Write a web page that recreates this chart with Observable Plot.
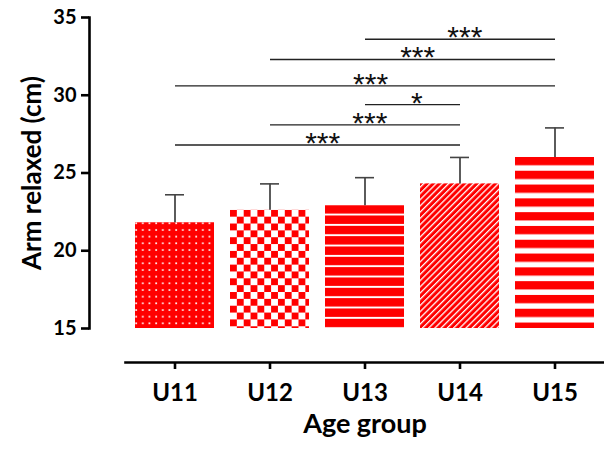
<!DOCTYPE html>
<html>
<head>
<meta charset="utf-8">
<script src="https://cdn.jsdelivr.net/npm/d3@7"></script>
<script src="https://cdn.jsdelivr.net/npm/@observablehq/plot@0.6"></script>
<style>
  body { margin: 0; background: #fff; }
</style>
</head>
<body>
<div id="chart"></div>
<script>
// Arm relaxed girth by age group: mean + SD
const groups = ["U11", "U12", "U13", "U14", "U15"];
const means = [21.8, 22.6, 22.9, 24.3, 26.0];
const sds = [1.8, 1.7, 1.8, 1.7, 1.9];
const yTicks = [15, 20, 25, 30, 35];
const yBase = 15;

// Pairwise comparisons (significance brackets)
const compLeft = ["U11", "U12", "U13", "U11", "U12", "U13"];
const compRight = ["U14", "U14", "U14", "U15", "U15", "U15"];
const compLevel = [26.8, 28.1, 29.4, 30.6, 32.3, 33.6];
const compLabel = ["***", "***", "*", "***", "***", "***"];

const data = groups.map((g, i) => ({group: g, mean: means[i], sd: sds[i]}));
const comps = compLeft.map((l, i) => ({left: l, right: compRight[i], level: compLevel[i], label: compLabel[i]}));

const W = 604, H = 450;
const mLeft = 125, mRight = 0, mTop = 17, mBottom = 122;
const red = "#ff0000";

const xOpts = {type: "band", domain: groups, paddingInner: 0.17, paddingOuter: 0.085, align: 0.5};
const xs = Plot.scale({x: {...xOpts, range: [mLeft, W - mRight]}});

const plot = Plot.plot({
  width: W,
  height: H,
  marginLeft: mLeft,
  marginRight: mRight,
  marginTop: mTop,
  marginBottom: mBottom,
  style: {background: "white", fontFamily: "Lato", color: "black"},
  x: xOpts,
  y: {domain: [yBase, 35]},
  color: {type: "ordinal", domain: groups, range: groups.map(g => `url(#fill-${g})`)},
  marks: [
    Plot.barY(data, {x: "group", y1: yBase, y2: "mean", fill: "group"}),
    Plot.ruleX(data, {x: "group", y1: "mean", y2: d => d.mean + d.sd, stroke: "#333", strokeWidth: 1.6}),
    Plot.tickY(data, {x: "group", y: d => d.mean + d.sd, stroke: "#444", strokeWidth: 1.6, insetLeft: 30, insetRight: 30}),
    Plot.link(comps, {x1: "left", x2: "right", y1: "level", y2: "level", stroke: "#222", strokeWidth: 1.3}),
    ...comps.map(c => Plot.text([c], {
      x: "left", y: "level", text: "label",
      dx: (xs.apply(c.right) - xs.apply(c.left)) / 2 + 4, dy: 8,
      lineAnchor: "bottom", fontSize: 30, fontFamily: "Liberation Sans", fill: "#111"
    })),
    Plot.frame({anchor: "left", dx: -36, strokeWidth: 2.6}),
    Plot.axisY({ticks: yTicks, dx: -36, tickSize: 8, tickPadding: 5, strokeWidth: 2.6,
      fontSize: 20, fontWeight: "bold", fontFamily: "Lato", label: null}),
    Plot.frame({anchor: "bottom", dy: 34, strokeWidth: 2.6}),
    Plot.axisX({dy: 34, tickSize: 7, tickPadding: 14, strokeWidth: 2.6,
      fontSize: 24, fontWeight: "bold", fontFamily: "Lato", label: null}),
    Plot.text(["Arm relaxed (cm)"], {frameAnchor: "left", textAnchor: "middle", rotate: -90, dx: -93,
      fontSize: 26, fontWeight: "bold", fontFamily: "Lato"}),
    Plot.text(["Age group"], {frameAnchor: "bottom", dy: 104,
      fontSize: 27, fontWeight: "bold", fontFamily: "Lato"})
  ]
});

// Fill patterns for each bar, anchored at the bar's top-left corner
const xScale = plot.scale("x"), yScale = plot.scale("y");
const defs = d3.select(plot).insert("defs", ":first-child");
function pattern(group, w, h, draw, transform) {
  const d = data.find(r => r.group === group);
  const p = defs.append("pattern")
    .attr("id", `fill-${group}`)
    .attr("patternUnits", "userSpaceOnUse")
    .attr("x", xScale.apply(group))
    .attr("y", yScale.apply(d.mean))
    .attr("width", w).attr("height", h);
  if (transform) p.attr("patternTransform", transform);
  draw(p, w, h);
}
// U11: red with small white dots
pattern("U11", 6.67, 6.67, (p, w, h) => {
  p.append("rect").attr("width", w).attr("height", h).attr("fill", red);
  p.append("rect").attr("x", 0.3).attr("y", 0.2).attr("width", 1.7).attr("height", 1.7).attr("fill", "white");
});
// U12: checkerboard
pattern("U12", 13.7, 13.7, (p, w, h) => {
  p.append("rect").attr("width", w).attr("height", h).attr("fill", "white");
  p.append("rect").attr("width", w / 2).attr("height", h / 2).attr("fill", red);
  p.append("rect").attr("x", w / 2).attr("y", h / 2).attr("width", w / 2).attr("height", h / 2).attr("fill", red);
});
// U13: narrow horizontal stripes
pattern("U13", 10, 10.33, (p, w, h) => {
  p.append("rect").attr("width", w).attr("height", h).attr("fill", "white");
  p.append("rect").attr("width", w).attr("height", 8.4).attr("fill", red);
});
// U14: diagonal hatching
pattern("U14", 4.4, 4.4, (p, w, h) => {
  p.append("rect").attr("width", w).attr("height", h).attr("fill", red);
  p.append("rect").attr("width", 1.3).attr("height", h).attr("fill", "white");
}, "rotate(45)");
// U15: wide horizontal stripes
pattern("U15", 10, 13.8, (p, w, h) => {
  p.append("rect").attr("width", w).attr("height", h).attr("fill", "white");
  p.append("rect").attr("width", w).attr("height", 8.3).attr("fill", red);
});

document.getElementById("chart").appendChild(plot);
</script>
</body>
</html>
